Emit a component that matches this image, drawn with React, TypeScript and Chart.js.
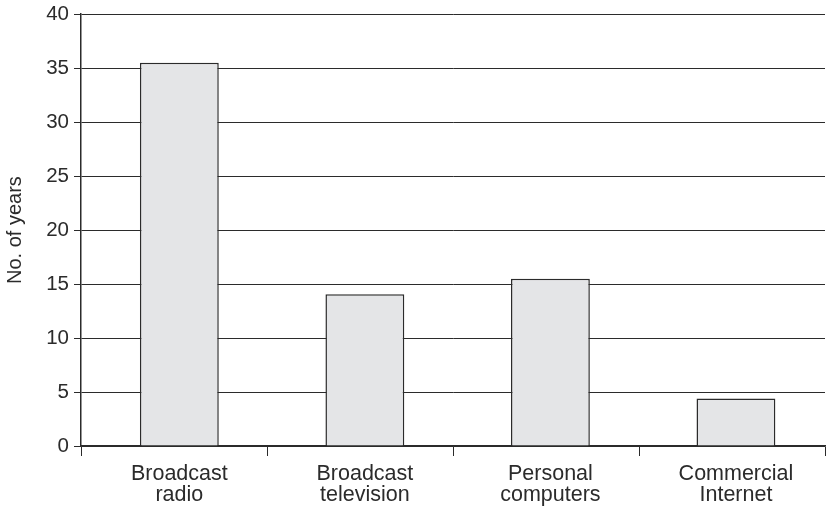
import React, { useEffect, useRef } from "react";
import { Chart, registerables } from "chart.js";

Chart.register(...registerables);

const categories: string[][] = [
  ["Broadcast", "radio"],
  ["Broadcast", "television"],
  ["Personal", "computers"],
  ["Commercial", "Internet"],
];
const years: number[] = [35.5, 14.05, 15.5, 4.4];
const yTitle = "No. of years";

export default function App() {
  const ref = useRef<HTMLCanvasElement | null>(null);
  useEffect(() => {
    if (!ref.current) return;
    const font = "'Liberation Sans', Arial, Helvetica, sans-serif";
    const ink = "#2b2b2b";
    const chart = new Chart(ref.current, {
      type: "bar",
      data: {
        datasets: [
          {
            data: years.map((v, i) => ({ x: i, y: v })),
            backgroundColor: "#e4e5e7",
            borderColor: ink,
            borderWidth: 1.5,
            categoryPercentage: 0.85,
            barPercentage: 0.5,
            xAxisID: "x",
          } as any,
        ],
      },
      options: {
        animation: false,
        responsive: false,
        maintainAspectRatio: false,
        layout: { padding: { top: 14, right: 2, left: 0, bottom: 0 } },
        plugins: { legend: { display: false }, tooltip: { enabled: false } },
        scales: {
          xt: {
            type: "linear",
            position: "bottom",
            axis: "x",
            weight: 0,
            offset: false,
            min: 0,
            max: categories.length,
            afterFit: (s: any) => {
              s.height = 10;
            },
            grid: {
              offset: false,
              drawOnChartArea: false,
              drawTicks: true,
              tickLength: 10,
              color: ink,
              lineWidth: 1,
            },
            border: { display: true, color: ink, width: 1.5 },
            ticks: { stepSize: 1, display: false },
          },
          x: {
            type: "linear",
            position: "bottom",
            weight: 1,
            offset: false,
            min: -0.53,
            max: 3.48,
            afterFit: (s: any) => {
              s.height = 51;
            },
            afterBuildTicks: (s: any) => {
              s.ticks = categories.map((_, i) => ({ value: i }));
            },
            grid: { display: false, drawTicks: false, offset: false },
            border: { display: false },
            ticks: {
              color: ink,
              font: { family: font, size: 21.5, lineHeight: 0.95 },
              padding: 8,
              maxRotation: 0,
              autoSkip: false,
              callback: (v: any) => categories[Math.round(Number(v))] ?? "",
            },
          },
          y: {
            min: 0,
            max: 40,
            afterFit: (s: any) => {
              s.width = 81;
            },
            grid: {
              color: ink,
              lineWidth: 1,
              drawTicks: true,
              tickLength: 7,
            },
            border: { display: true, color: ink, width: 1.5 },
            ticks: {
              stepSize: 5,
              color: ink,
              font: { family: font, size: 20.5, lineHeight: 0.9 },
              padding: 5,
            },
            title: {
              display: true,
              text: yTitle,
              color: ink,
              font: { family: font, size: 20, lineHeight: 1.2 },
              padding: { top: 3, bottom: 0 },
            },
          },
        },
      },
    });
    return () => chart.destroy();
  }, []);
  return (
    <div style={{ position: "fixed", left: 0, top: 0, width: 827, height: 507, background: "#fff" }}>
      <canvas ref={ref} width={827} height={507} style={{ width: 827, height: 507 }} />
    </div>
  );
}
